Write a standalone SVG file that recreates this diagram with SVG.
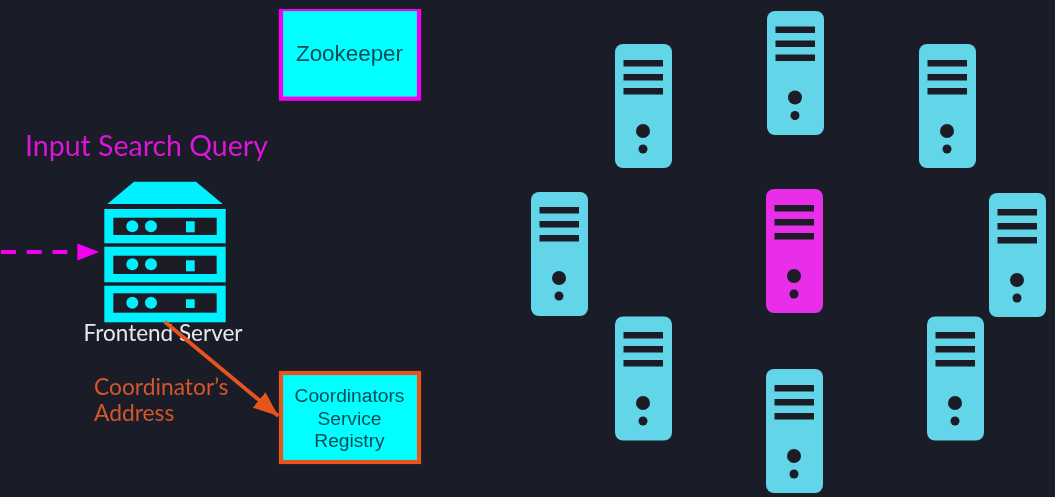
<svg xmlns="http://www.w3.org/2000/svg" width="1055" height="497" viewBox="0 0 1055 497">
<style>
.rack{fill:#00f0ff}
.slot{fill:#1a1c27}
.tower{fill:#62d6e8}
.tower-hot{fill:#e82ee8}
.lato{font-family:Lato,"Noto Sans",sans-serif}
.box{fill:#00ffff;stroke-width:4.2}
.boxtext{font-family:"Liberation Sans",Arial,sans-serif;fill:#0c4a55;text-anchor:middle}
.orange{fill:#d4562a}
</style>
<defs>
<filter id="soft" x="0" y="0" width="100%" height="100%" filterUnits="objectBoundingBox"><feGaussianBlur stdDeviation="0.45"/></filter>
<g id="tower-details">
<rect class="slot" x="8.5" y="16" width="39.5" height="6.5"/>
<rect class="slot" x="8.5" y="30" width="39.5" height="6.5"/>
<rect class="slot" x="8.5" y="44" width="39.5" height="6.5"/>
<circle class="slot" cx="28" cy="87" r="7"/>
<circle class="slot" cx="28" cy="105" r="4.5"/>
</g>
<g id="rack-dots">
<circle class="rack" cx="132.3" cy="0" r="6"/>
<circle class="rack" cx="151" cy="0" r="6"/>
</g>
<marker id="pink-head" markerUnits="userSpaceOnUse" markerWidth="23" markerHeight="18" refX="22" refY="9" orient="auto"><path d="M0,0.5 L22,9 L0,17.5 Z" fill="#f400f0"/></marker>
<marker id="orange-head" markerUnits="userSpaceOnUse" markerWidth="26" markerHeight="22" refX="25" refY="11" orient="auto"><path d="M0,1 L25,11 L0,21 Z" fill="#e8541f"/></marker>
</defs>
<rect width="1055" height="497" fill="#1a1c27"/>
<g filter="url(#soft)">
<g id="zookeeper">
<rect class="box" x="281" y="9" width="138" height="89.7" stroke="#f400f0"/>
<text class="boxtext" x="349.5" y="61" font-size="22.4">Zookeeper</text>
</g>
<g id="input-label"><text class="lato" x="25" y="156" font-size="28.5" fill="#d916d9">Input Search Query</text></g>
<g id="frontend-server">
<polygon class="rack" points="107.3,204 134,181.7 196,181.7 222.7,204"/>
<rect class="rack" x="104.3" y="209" width="121.4" height="34.3"/>
<rect class="rack" x="104.3" y="246.7" width="121.4" height="35.6"/>
<rect class="rack" x="104.3" y="285.7" width="121.4" height="36.6"/>
<rect class="slot" x="113.3" y="217.7" width="103.4" height="17.3"/>
<rect class="slot" x="113.3" y="255.7" width="103.4" height="18.3"/>
<rect class="slot" x="113.3" y="293.3" width="103.4" height="19.4"/>
<use href="#rack-dots" y="226.3"/>
<use href="#rack-dots" y="264.3"/>
<use href="#rack-dots" y="302.7"/>
<rect class="rack" x="186" y="221.3" width="8.7" height="11"/>
<rect class="rack" x="186" y="260.3" width="8.7" height="11"/>
<rect class="rack" x="186" y="299.3" width="8.7" height="8.7"/>
<text class="lato" x="83.5" y="341" font-size="22.5" fill="#e8e8ee">Frontend Server</text>
</g>
<g id="registry">
<rect class="box" x="281" y="373" width="138" height="89" stroke="#e8541f"/>
<text class="boxtext" x="349.5" y="401.5" font-size="19.2">Coordinators</text>
<text class="boxtext" x="349.5" y="424.5" font-size="19.2">Service</text>
<text class="boxtext" x="349.5" y="447" font-size="19.2">Registry</text>
</g>
<g id="address-label">
<text class="lato orange" x="94" y="395" font-size="22.8">Coordinator’s</text>
<text class="lato orange" x="94" y="421" font-size="22.8">Address</text>
</g>
<g id="connectors" fill="none">
<line x1="1" y1="252" x2="99.3" y2="252" stroke="#f400f0" stroke-width="4" stroke-dasharray="15 10.7" marker-end="url(#pink-head)"/>
<line x1="164.7" y1="321.7" x2="278.3" y2="416" stroke="#e8541f" stroke-width="3.8" marker-end="url(#orange-head)"/>
</g>
<g id="server-1"><rect class="tower" x="615" y="44" width="57" height="124" rx="8"/><use href="#tower-details" x="615" y="44"/></g>
<g id="server-2"><rect class="tower" x="767" y="11" width="57" height="124" rx="8"/><use href="#tower-details" x="767" y="10.5"/></g>
<g id="server-3"><rect class="tower" x="919" y="44" width="57" height="124" rx="8"/><use href="#tower-details" x="919" y="44"/></g>
<g id="server-4"><rect class="tower" x="531" y="192" width="57" height="124" rx="8"/><use href="#tower-details" x="531" y="191"/></g>
<g id="server-5"><rect class="tower-hot" x="766" y="189" width="57" height="124" rx="8"/><use href="#tower-details" x="766" y="189"/></g>
<g id="server-6"><rect class="tower" x="989" y="193" width="57" height="124" rx="8"/><use href="#tower-details" x="989" y="193"/></g>
<g id="server-7"><rect class="tower" x="615" y="316.5" width="57" height="124" rx="8"/><use href="#tower-details" x="615" y="316"/></g>
<g id="server-8"><rect class="tower" x="927" y="316.5" width="57" height="124" rx="8"/><use href="#tower-details" x="927" y="316"/></g>
<g id="server-9"><rect class="tower" x="766" y="369" width="57" height="124" rx="8"/><use href="#tower-details" x="766" y="369"/></g>
</g>
</svg>
